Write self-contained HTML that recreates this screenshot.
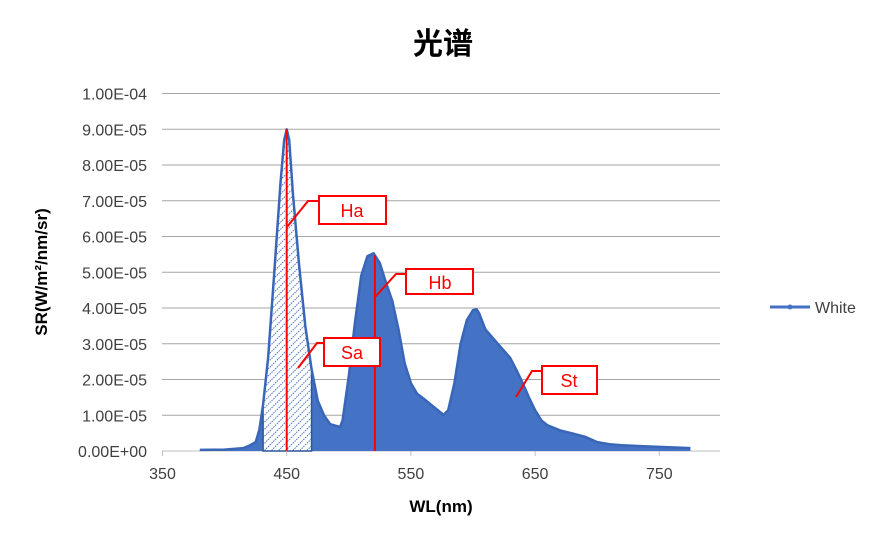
<!DOCTYPE html>
<html><head><meta charset="utf-8"><style>
body{margin:0;background:#fff;}
text{font-family:"Liberation Sans","Noto Sans CJK SC",sans-serif;}
</style></head><body>
<svg id="chart" width="887" height="543" viewBox="0 0 887 543" xmlns="http://www.w3.org/2000/svg">
<defs>
<pattern id="hatch" width="5" height="5" patternUnits="userSpaceOnUse" patternTransform="rotate(45)">
<rect width="5" height="5" fill="#fff"/><line x1="0" y1="0" x2="0" y2="5" stroke="#4472c4" stroke-width="2" stroke-dasharray="1.5,1"/>
</pattern>
</defs>
<text x="443" y="54" text-anchor="middle" font-size="30" font-weight="bold" fill="#000">光谱</text>
<g id="grid"></g><g id="series"></g><g id="axes"></g>
<g stroke="#f00" stroke-width="2" fill="#fff">
<polyline points="287,227 308,201 319,201" fill="none"/>
<rect x="319" y="196" width="67" height="28"/>
<polyline points="375,297 396,274 406,274" fill="none"/>
<rect x="406" y="269" width="67" height="25"/>
<polyline points="298,368 317,343 324,343" fill="none"/>
<rect x="324" y="338" width="56" height="28"/>
<polyline points="516,397 532,371 542,371" fill="none"/>
<rect x="542" y="366" width="55" height="28"/>
</g>
<g font-size="18" fill="#f00" text-anchor="middle">
<text x="352" y="217">Ha</text>
<text x="440" y="289">Hb</text>
<text x="352" y="359">Sa</text>
<text x="569" y="387">St</text>
</g>
<g>
<line x1="770" y1="307" x2="810" y2="307" stroke="#4472c4" stroke-width="3"/>
<circle cx="790" cy="307" r="2.5" fill="#4472c4"/>
<text x="815" y="313" font-size="16" fill="#404040">White</text>
</g>
<text x="441" y="512" text-anchor="middle" font-size="17" font-weight="bold" fill="#000">WL(nm)</text>
<text transform="translate(47,272) rotate(-90)" text-anchor="middle" font-size="17" font-weight="bold" fill="#000">SR(W/m²/nm/sr)</text>
</svg>
<script>
const wavelengths=[380,400,415,420,425,428,431,435,440,445,448,450,452,455,460,465,470,475,480,485,490,493,495,500,505,510,515,520,525,530,535,540,545,550,555,560,565,570,575,576,580,585,590,595,600,603,605,610,615,620,625,630,635,640,645,650,655,660,670,680,690,700,710,720,740,760,775];
const srValues=[0.03,0.04,0.08,0.15,0.25,0.6,1.3,2.6,5.0,7.5,8.7,9.0,8.7,7.2,5.2,3.5,2.3,1.4,1.0,0.75,0.7,0.67,0.86,2.1,3.6,4.9,5.45,5.53,5.25,4.7,4.2,3.4,2.45,1.9,1.6,1.47,1.33,1.19,1.05,1.0,1.14,1.9,3.0,3.66,3.94,3.96,3.85,3.4,3.2,3.0,2.8,2.6,2.26,1.9,1.5,1.14,0.86,0.72,0.58,0.49,0.4,0.25,0.19,0.16,0.13,0.1,0.08]; // x1e-5
const xTicks=[350,450,550,650,750];
const yTicks=[0,1,2,3,4,5,6,7,8,9,10];
const yTickLabels=["0.00E+00","1.00E-05","2.00E-05","3.00E-05","4.00E-05","5.00E-05","6.00E-05","7.00E-05","8.00E-05","9.00E-05","1.00E-04"];
const hatchRange=[431,470];
const markerLines=[450,521];
const NS="http://www.w3.org/2000/svg";
const X=v=>162.5+(v-350)*1.242;
const Y=v=>451-v*35.75;
function mk(tag,attrs,parent){const e=document.createElementNS(NS,tag);for(const k in attrs)e.setAttribute(k,attrs[k]);parent.appendChild(e);return e;}
const grid=document.getElementById('grid'),series=document.getElementById('series'),axes=document.getElementById('axes');
yTicks.forEach((t,i)=>{
 const l=mk('line',{x1:162,x2:720,y1:Y(t),y2:Y(t),stroke:t===0?'#bfbfbf':'#a6a6a6','stroke-width':1},grid);
 
 
 const tx=mk('text',{x:147,y:Y(t)+6,'text-anchor':'end','font-size':16,fill:'#404040'},axes);
 tx.textContent=yTickLabels[i];
 
 
});
xTicks.forEach(t=>{
 const tk=mk('line',{x1:X(t),x2:X(t),y1:451,y2:456,stroke:'#bfbfbf'},axes);
 
 
 const tx=mk('text',{x:X(t),y:479,'text-anchor':'middle','font-size':16,fill:'#404040'},axes);
 tx.textContent=t;
 
 
});
let pts=wavelengths.map((w,i)=>X(w).toFixed(1)+','+Y(srValues[i]).toFixed(1));
const area=mk('polygon',{points:X(wavelengths[0])+','+Y(0)+' '+pts.join(' ')+' '+X(wavelengths[wavelengths.length-1])+','+Y(0),fill:'#4472c4'},series);


function interp(w){for(let i=1;i<wavelengths.length;i++){if(wavelengths[i]>=w){const a=wavelengths[i-1],b=wavelengths[i];return srValues[i-1]+(srValues[i]-srValues[i-1])*(w-a)/(b-a);}}return 0;}
let hp=[X(hatchRange[0])+','+Y(0),X(hatchRange[0])+','+Y(interp(hatchRange[0]))];
wavelengths.forEach((w,i)=>{if(w>hatchRange[0]&&w<hatchRange[1])hp.push(X(w)+','+Y(srValues[i]));});
hp.push(X(hatchRange[1])+','+Y(interp(hatchRange[1])),X(hatchRange[1])+','+Y(0));
const h=mk('polygon',{points:hp.join(' '),fill:'url(#hatch)',stroke:'#2f5597','stroke-width':1.5},series);


const line=mk('polyline',{points:pts.join(' '),fill:'none',stroke:'#3a66b8','stroke-width':2.5,'stroke-linejoin':'round'},series);


markerLines.forEach(w=>{
 const m=mk('line',{x1:X(w),x2:X(w),y1:Y(0),y2:Y(interp(w)),stroke:'#f00','stroke-width':2},series);
 
 
});
</script>
</body></html>
